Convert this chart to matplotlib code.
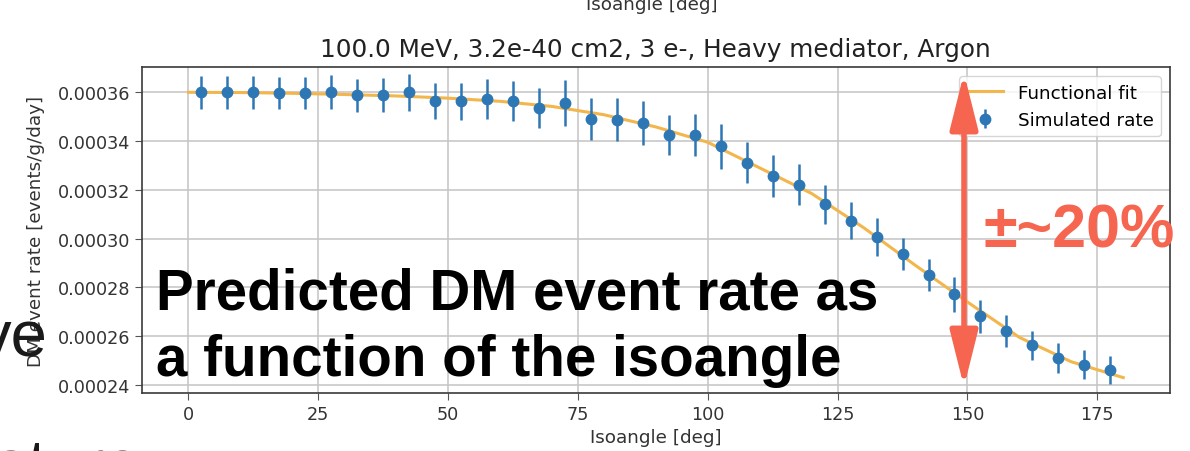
import matplotlib
matplotlib.use("Agg")
import matplotlib.pyplot as plt
from matplotlib.patches import FancyArrowPatch
from matplotlib.ticker import FormatStrFormatter

# simulated rate, one point per 5 deg bin
isoangle = [2.5, 7.5, 12.5, 17.5, 22.5, 27.5, 32.5, 37.5, 42.5, 47.5, 52.5, 57.5,
            62.5, 67.5, 72.5, 77.5, 82.5, 87.5, 92.5, 97.5, 102.5, 107.5, 112.5, 117.5,
            122.5, 127.5, 132.5, 137.5, 142.5, 147.5, 152.5, 157.5, 162.5, 167.5, 172.5, 177.5]
rate = [3.600e-4, 3.600e-4, 3.600e-4, 3.597e-4, 3.597e-4, 3.600e-4, 3.588e-4, 3.588e-4,
        3.600e-4, 3.563e-4, 3.563e-4, 3.572e-4, 3.565e-4, 3.537e-4, 3.555e-4, 3.490e-4,
        3.488e-4, 3.474e-4, 3.424e-4, 3.424e-4, 3.378e-4, 3.312e-4, 3.258e-4, 3.220e-4,
        3.140e-4, 3.074e-4, 3.007e-4, 2.937e-4, 2.850e-4, 2.771e-4, 2.681e-4, 2.621e-4,
        2.562e-4, 2.511e-4, 2.483e-4, 2.460e-4]
rate_err = [6.7e-6, 6.7e-6, 6.7e-6, 6.4e-6, 6.7e-6, 7.0e-6, 6.7e-6, 7.0e-6, 7.7e-6,
            7.4e-6, 7.6e-6, 8.3e-6, 8.3e-6, 8.2e-6, 9.5e-6, 8.6e-6, 8.9e-6, 9.2e-6,
            8.3e-6, 8.5e-6, 9.2e-6, 8.5e-6, 8.6e-6, 8.4e-6, 8.0e-6, 7.7e-6, 7.8e-6,
            6.7e-6, 6.5e-6, 7.2e-6, 6.6e-6, 6.4e-6, 6.0e-6, 6.1e-6, 6.0e-6, 5.8e-6]

# functional fit
fit_angle = [0, 10, 20, 30, 40, 50, 60, 70, 80, 90, 100, 110, 120, 130, 140, 150, 160, 170, 180]
fit_rate = [3.600e-4, 3.599e-4, 3.596e-4, 3.591e-4, 3.585e-4, 3.576e-4, 3.563e-4, 3.542e-4,
            3.508e-4, 3.458e-4, 3.395e-4, 3.290e-4, 3.185e-4, 3.045e-4, 2.890e-4, 2.740e-4,
            2.595e-4, 2.495e-4, 2.430e-4]

x_ticks = [0, 25, 50, 75, 100, 125, 150, 175]
y_ticks = [2.4e-4, 2.6e-4, 2.8e-4, 3.0e-4, 3.2e-4, 3.4e-4, 3.6e-4]

W, H = 1190, 452
RED = "#f5654f"


def px(x, y):
    # figure pixel -> figure fraction
    return x / W, 1 - y / H


fig = plt.figure(figsize=(W / 100, H / 100), dpi=100)
ax = fig.add_axes([141.7 / W, 1 - 394 / H, (1170 - 141.7) / W, (394 - 68.3) / H])

ax.plot(fit_angle, fit_rate, color="#f2b64c", lw=2.2, label="Functional fit", zorder=2)
ax.errorbar(isoangle, rate, yerr=rate_err, fmt="o", color="#2e77b5", ms=7.5, elinewidth=1.8,
            label="Simulated rate", zorder=3)

ax.set_xlim(-9, 189)
ax.set_ylim(0.0002367, 0.00037025)
ax.set_xticks(x_ticks)
ax.set_yticks(y_ticks)
ax.yaxis.set_major_formatter(FormatStrFormatter("%.5f"))
ax.grid(True, color="#c4c4c4", lw=1.1)
ax.tick_params(labelsize=12.7, labelcolor="#333333", color="#555555", length=5)
for s in ax.spines.values():
    s.set_color("#3a3a3a")
    s.set_linewidth(1.2)

ax.set_title("100.0 MeV, 3.2e-40 cm2, 3 e-, Heavy mediator, Argon", fontsize=17.8,
             color="#222222", pad=8)
ax.set_xlabel("Isoangle [deg]", fontsize=13.2, color="#333333")
ax.set_ylabel("DM event rate [events/g/day]", fontsize=13.2, color="#333333", labelpad=9)
ax.legend(loc="upper right", fontsize=13.2, framealpha=0.8)

# cut-off label of the plot above on the slide
fig.text(*px(652, 10), "Isoangle [deg]", fontsize=13.2, color="#333333", ha="center",
         va="baseline")

# slide overlay
bold = dict(family="Liberation Sans", weight="bold", va="baseline", ha="left")
fig.text(*px(156, 310), "Predicted DM event rate as", fontsize=40.7, color="black", **bold)
fig.text(*px(156, 376), "a function of the isoangle", fontsize=40.7, color="black", **bold)
fig.text(*px(984, 248), "±~20%", fontsize=44, color=RED, **bold)
fig.text(*px(48, 357), "ve", fontsize=47, color="#1a1a1a", family="Liberation Sans",
         ha="right", va="baseline")
fig.text(*px(-8, 485), "ature", fontsize=47, color="#1a1a1a", family="Liberation Sans",
         ha="left", va="baseline")

arrow = FancyArrowPatch(px(964, 74), px(964, 388), transform=fig.transFigure,
                        arrowstyle="<|-|>,head_length=34,head_width=8.5",
                        color=RED, lw=4, shrinkA=0, shrinkB=0)
fig.add_artist(arrow)

fig.savefig("out.png", dpi=100)
